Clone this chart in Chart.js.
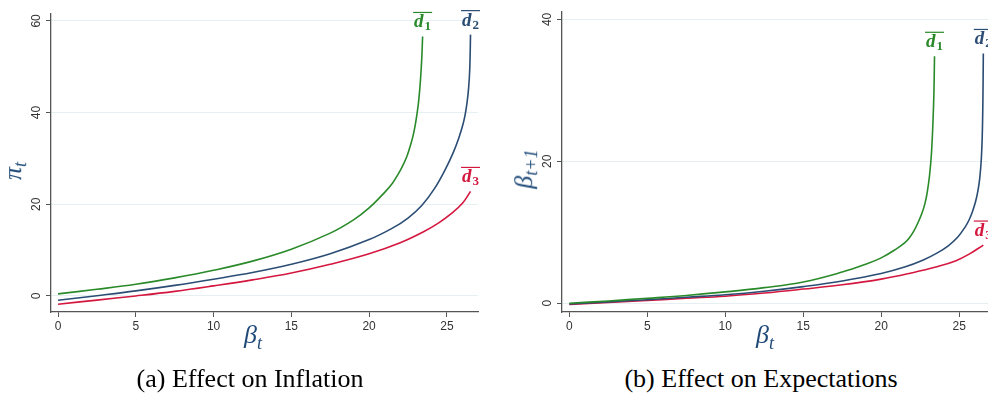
<!DOCTYPE html>
<html>
<head>
<meta charset="utf-8">
<script src="https://cdn.jsdelivr.net/npm/chart.js@4"></script>
<style>
  body { margin: 0; width: 988px; height: 396px; background: #fff; position: relative; overflow: hidden; }
  .box { position: absolute; top: 0; width: 494px; height: 350px; }
  .ttl { position: absolute; font-family: 'Liberation Serif', serif; font-style: italic; color: #1f4a78; white-space: nowrap; line-height: 1; }
  .ttl sub { font-size: 0.7em; vertical-align: -0.3em; }
  .rot { transform: translate(-50%, -50%) rotate(-90deg); }
  .hor { transform: translate(-50%, -50%); }
  .cap { position: absolute; font-family: 'Liberation Serif', serif; font-size: 26px; line-height: 1; color: #000; transform: translateX(-50%); white-space: nowrap; }
</style>
</head>
<body>
<div class="box" style="left:0"><canvas id="chartA"></canvas></div>
<div class="box" style="left:494px"><canvas id="chartB"></canvas></div>

<div class="ttl rot" style="left:15px;top:171px;font-size:26px">π<sub>t</sub></div>
<div class="ttl hor" style="left:253px;top:337px;font-size:26px">β<sub>t</sub></div>
<div class="ttl rot" style="left:526px;top:169px;font-size:26px">β<sub>t+1</sub></div>
<div class="ttl hor" style="left:765px;top:337px;font-size:26px">β<sub>t</sub></div>

<div class="cap" style="left:250px;top:366px">(a) Effect on Inflation</div>
<div class="cap" style="left:761px;top:366px">(b) Effect on Expectations</div>

<script>
// values, [beta_t, value]
const inflD1 = [[0,0.45],[2.5,1.45],[5,2.55],[7.5,3.95],[10,5.6],[12.5,7.6],[15,10.2],[17.5,13.7],[19,16.6],[20,19.2],[21,22.6],[21.5,24.6],[21.8,26.2],[22.1,28],[22.4,30.2],[22.6,32.2],[22.8,34.6],[22.95,37],[23.1,40.2],[23.2,43],[23.3,47],[23.38,51.5],[23.44,56.6]];
const inflD2 = [[0,-0.95],[2.5,0.05],[5,1.1],[7.5,2.3],[10,3.65],[12.5,5.1],[15,6.9],[17.5,9.2],[20,12.3],[21.5,14.8],[22.5,17],[23.4,19.8],[24.2,23.4],[24.9,27.6],[25.4,31.2],[25.75,34.3],[26,37],[26.16,39.3],[26.3,42.3],[26.4,45.5],[26.47,49.5],[26.52,57]];
const inflD3 = [[0,-1.8],[2.5,-0.9],[5,0.0],[7.5,1.0],[10,2.2],[12.5,3.5],[15,5.0],[17.5,6.9],[20,9.2],[22,11.6],[23.5,14],[24.5,16],[25.3,18],[26,20.2],[26.52,22.8]];

const expD1 = [[0,0],[2.5,0.33],[5,0.7],[7.5,1.1],[10,1.6],[12.5,2.2],[15,3.0],[17.5,4.4],[19,5.5],[20,6.4],[21,7.7],[21.5,8.5],[21.8,9.2],[22.1,10.2],[22.35,11.3],[22.6,12.6],[22.8,14],[22.95,15.6],[23.1,18],[23.22,21],[23.32,25.5],[23.38,29.5],[23.42,34.8]];
const expD2 = [[0,-0.1],[2.5,0.2],[5,0.5],[7.5,0.85],[10,1.2],[12.5,1.7],[15,2.35],[17.5,3.15],[20,4.2],[21.5,5.1],[22.7,6.1],[23.6,7.1],[24.3,8.1],[24.9,9.3],[25.4,10.8],[25.65,11.8],[25.85,12.9],[26.05,14.3],[26.2,15.8],[26.32,17.6],[26.42,20.3],[26.48,23.5],[26.52,28],[26.55,35.2]];
const expD3 = [[0,-0.15],[2.5,0.12],[5,0.4],[7.5,0.7],[10,1.0],[12.5,1.45],[15,2.0],[17.5,2.6],[20,3.4],[22,4.3],[23.5,5.1],[24.8,6.0],[25.7,7.0],[26.55,8.2]];

const seriesNames = ['d1', 'd2', 'd3'];
const seriesColors = ['#2a8a2a', '#2b4d74', '#d4173f'];

const xTickStep = 5;
const inflTickStep = 20;
const expTickStep = 20;

function toPoints(arr) {
  return arr.map(p => ({ x: p[0], y: p[1] }));
}

// draws the d-bar labels at the end of each curve
const endLabels = {
  id: 'endLabels',
  afterDatasetsDraw(chart) {
    const ctx = chart.ctx;
    const xs = chart.scales.x, ys = chart.scales.y;
    chart.data.datasets.forEach((ds) => {
      const last = ds.data[ds.data.length - 1];
      const px = xs.getPixelForValue(last.x);
      const py = ys.getPixelForValue(last.y);
      const base = py - 9;
      const num = ds.label.slice(1);
      ctx.save();
      ctx.fillStyle = ds.borderColor;
      ctx.strokeStyle = ds.borderColor;
      ctx.textBaseline = 'alphabetic';
      ctx.textAlign = 'left';
      ctx.font = 'italic bold 19px "Liberation Serif", serif';
      const wd = ctx.measureText('d').width;
      ctx.font = 'bold 13px "Liberation Serif", serif';
      const wn = ctx.measureText(num).width;
      const w = wd + wn + 1;
      const left = px - w / 2;
      ctx.font = 'italic bold 19px "Liberation Serif", serif';
      ctx.fillText('d', left, base);
      ctx.font = 'bold 13px "Liberation Serif", serif';
      ctx.fillText(num, left + wd + 1, base + 3);
      ctx.lineWidth = 1.2;
      ctx.beginPath();
      ctx.moveTo(left - 1, base - 15);
      ctx.lineTo(left + w + 1, base - 15);
      ctx.stroke();
      ctx.restore();
    });
  }
};

function makeChart(id, sets, yMin, yMax, yStep, xMin, xMax, yWidth, padTop, padRight) {
  const ctx = document.getElementById(id).getContext('2d');
  return new Chart(ctx, {
    type: 'line',
    data: {
      datasets: sets.map((s, i) => ({
        label: seriesNames[i],
        data: toPoints(s),
        borderColor: seriesColors[i],
        borderWidth: 1.6,
        pointRadius: 0,
        fill: false,
        tension: 0.4,
      }))
    },
    options: {
      responsive: true,
      maintainAspectRatio: false,
      animation: false,
      layout: { padding: { top: padTop, right: padRight, left: 0, bottom: 0 } },
      plugins: {
        legend: { display: false },
        tooltip: { enabled: false },
      },
      scales: {
        x: {
          type: 'linear',
          min: xMin,
          max: xMax,
          grid: { drawOnChartArea: false, tickLength: 5, tickColor: '#555', tickWidth: 1 },
          border: { color: '#555', width: 1.3 },
          ticks: {
            stepSize: xTickStep,
            includeBounds: false,
            padding: 2,
            color: '#333',
            maxRotation: 0,
            font: { family: '"Liberation Sans", Arial, sans-serif', size: 12 },
          },
          afterFit(scale) { scale.height = 38; },
        },
        y: {
          type: 'linear',
          min: yMin,
          max: yMax,
          grid: { color: '#e6eff1', lineWidth: 1, tickLength: 5, tickColor: '#555', tickWidth: 1 },
          border: { color: '#555', width: 1.3 },
          ticks: {
            stepSize: yStep,
            includeBounds: false,
            padding: 3,
            minRotation: 90,
            maxRotation: 90,
            crossAlign: 'center',
            color: '#333',
            font: { family: '"Liberation Sans", Arial, sans-serif', size: 12 },
          },
          afterFit(scale) { scale.width = yWidth; },
        },
      },
    },
    plugins: [endLabels],
  });
}

makeChart('chartA', [inflD1, inflD2, inflD3], -3.5, 61.5, inflTickStep, -0.45, 27, 51, 14, 16);
makeChart('chartB', [expD1, expD2, expD3], -1.23, 41.04, expTickStep, -0.47, 26.85, 68, 12, 0);
</script>
</body>
</html>
